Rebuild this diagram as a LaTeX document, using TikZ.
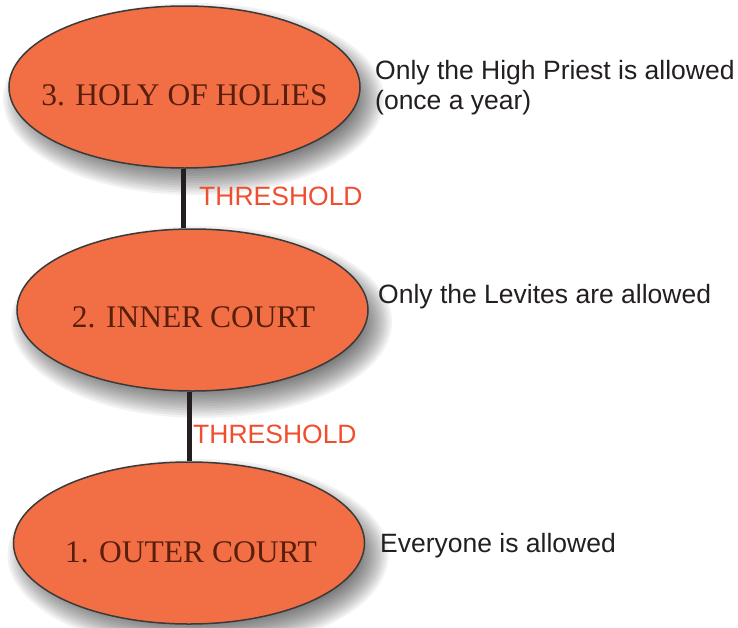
\documentclass[tikz,border=0pt]{standalone}
\usepackage{fontspec}
\setmainfont{Liberation Serif}
\newfontfamily\arialf{Liberation Sans}
\usetikzlibrary{shapes.geometric,backgrounds,calc}
\definecolor{ellfill}{HTML}{F26F45}
\definecolor{ellline}{HTML}{3A3A3A}
\definecolor{elltext}{HTML}{5A1E0C}
\definecolor{thr}{HTML}{F04E2E}
\definecolor{conncol}{HTML}{231F20}
\definecolor{desc}{HTML}{231F20}
\newcommand{\courtshadow}[1]{%
  \foreach \i in {0,...,13}{%
    \fill[black, opacity=0.05] ($(#1)+(9,12)$) ellipse [x radius={175.5+15-2.4*\i}, y radius={81+15-2.4*\i}];
  }%
}
\begin{document}
\begin{tikzpicture}[x=1pt,y=-1pt,
  court/.style={ellipse, draw=ellline, line width=1.5pt, fill=ellfill,
    minimum width=351pt, minimum height=162pt, inner sep=0pt},
  courttext/.style={anchor=base, inner sep=0pt, text=elltext, font=\fontsize{31.5}{36}\selectfont},
  conn/.style={draw=conncol, line width=5pt},
  thresh/.style={anchor=base west, inner sep=0pt, text=thr, font=\arialf\fontsize{26.5}{30}\selectfont},
  note/.style={anchor=base west, inner sep=0pt, text=desc, font=\arialf\fontsize{26.5}{30}\selectfont}]
\useasboundingbox (0,0) rectangle (738,627);

\node[court] (e1) at (184.5,87) {};
\node[court] (e2) at (192.5,310) {};
\node[court] (e3) at (189,543) {};

\begin{scope}[on background layer]
  \fill[white] (0,0) rectangle (738,627);
  \courtshadow{e1}
  \courtshadow{e2}
  \courtshadow{e3}
\end{scope}

\node[courttext] (t1) at (184.5,105) {3. HOLY OF HOLIES};
\node[courttext] (t2) at (193.5,327) {2. INNER COURT};
\node[courttext] (t3) at (191,562) {1. OUTER COURT};

\draw[conn] ([xshift=-1.5pt]e1.south) -- ([xshift=-1.5pt]e1.south |- e2.north);
\draw[conn] (e2.south -| e3.north) -- (e3.north);

\node[thresh] (th1) at (199,205) {THRESHOLD};
\node[thresh] (th2) at (193,443) {THRESHOLD};

\node[note] (n1a) at (375,79) {Only the High Priest is allowed};
\node[note] (n1b) at (375,109) {(once a year)};
\node[note] (n2) at (378,303) {Only the Levites are allowed};
\node[note] (n3) at (380,552) {Everyone is allowed};
\end{tikzpicture}
\end{document}
